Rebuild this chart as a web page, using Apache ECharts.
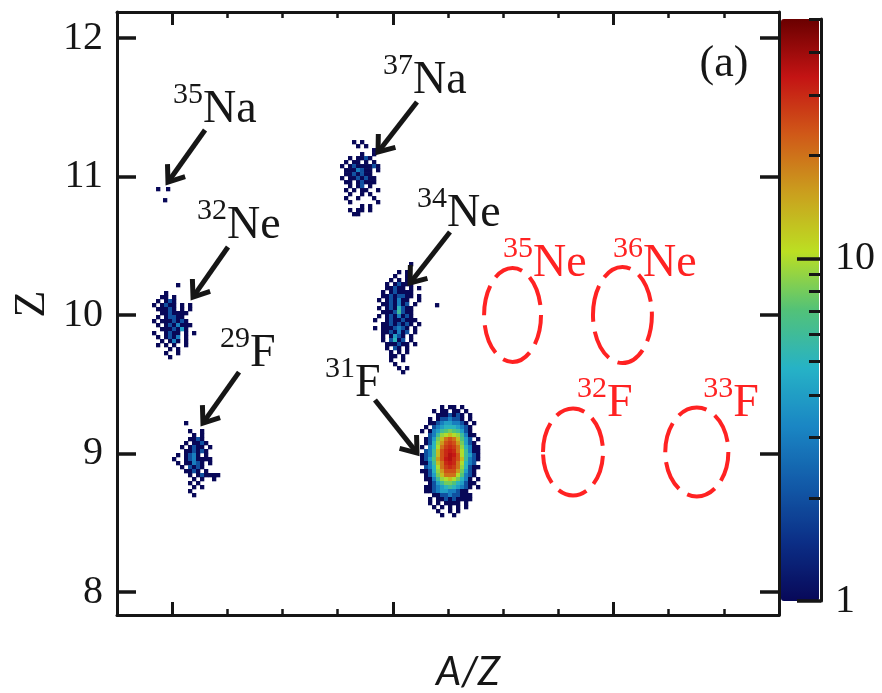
<!DOCTYPE html>
<html><head><meta charset="utf-8">
<script src="https://cdn.jsdelivr.net/npm/echarts@6/dist/echarts.min.js"></script>
<style>html,body{margin:0;padding:0;background:#fff}#c{width:882px;height:693px}</style>
</head><body><div id="c"></div>
<script>
// ---------------- data ----------------
// axis ranges (A/Z, Z)
const xMin = 3.15, xMax = 3.75, xMinorStep = 0.05;
const xMajorTicks = [3.2, 3.4, 3.6];
const yMin = 7.834, yMax = 12.188;
const yTicks = [8, 9, 10, 11, 12];
// colour bar (log scale of counts)
const cbMin = 1, cbMax = 50;
const cbMajorTicks = [1, 10];
const cbMinorTicks = [2, 3, 4, 5, 6, 7, 8, 9, 20, 30, 40, 50];
const cbColors = ['#080858', '#0b2e86', '#125aa8', '#1a86c4', '#26b2c6', '#52c278',
                  '#bcdf22', '#caa01e', '#d05a18', '#c41414', '#6a0000'];

// 2D histogram bin size (A/Z, Z)
const binW = 0.003625, binH = 0.02888;
// count codes used in the typed histograms
const countCodes  = '123456789ABCDEFGHI';
const countValues = [1, 2, 3, 4, 5, 6, 7, 8, 9, 10, 13, 16, 20, 24, 27, 30, 33, 36];

// histogram blocks: rows from top, columns from left; origin = top-left corner (A/Z, Z)
const origin31F = [3.42462, 9.35018];
const rows31F = [
  ".....1.11.1....",
  "...1.11.11.1...",
  "....1112121.1..",
  "..1.1223221.1..",
  "..1123443321.1.",
  ".1.2345554321..",
  "1.13467876421..",
  "..2369ABA96311.",
  ".1248BDEDB742.1",
  ".1259CEFEC8421.",
  "1.35ADFGFD95311",
  ".236BEGHGDA6311",
  "1236BEGIHEA6421",
  "1247CEHIGEB6321",
  "1136BDGHGDA532.",
  ".235ADFGFD95211",
  "11259CEEEC8421.",
  ".1248BDDDA7321.",
  ".11369ABA8531.1",
  "..124688754211.",
  ".112345654321.1",
  ".11234433211...",
  "...1122322111..",
  "..1.112121111..",
  "..1.1.1111.1...",
  "...1.1.1.1.1...",
  "....1..1.1.....",
  ".....1..1......"
];
const origin34Ne = [3.38203, 10.38267];
const rows34Ne = [
  ".........1..",
  "............",
  "......1.1...",
  ".....1..1...",
  "....1.1.11..",
  "...1.12111..",
  "...11211.1.1",
  "..1.121111..",
  "..11212211.1",
  ".1.121311..1",
  "..1121312.1.",
  ".1.1215211..",
  "..11126211..",
  ".1.1213121..",
  "1..12112111.",
  "..11212121.1",
  "1.1112321.1.",
  "..1121312.1.",
  "..1.1421.1..",
  "..1.2512.1..",
  "...111211.1.",
  "...1.21.1...",
  "....1.1.1...",
  "....11.1....",
  "....1..1....",
  ".....1......",
  "......1.1...",
  ".......1...."
];
const origin37Na = [3.35212, 11.26354];
const rows37Na = [
  "...1.1....",
  "....1.1...",
  "........1.",
  ".....1..1.",
  "..1.1121..",
  ".1.11.1.1.",
  "1.12111121",
  ".1113211.1",
  ".1121211..",
  "1.1121211.",
  ".11.12111.",
  "..1.12.1..",
  ".1.1.11..1",
  "..1..1.1..",
  ".1..1...1.",
  "..1......1",
  ".....1.1..",
  "..1.11.1..",
  "...11....."
];
const origin32Ne = [3.18172, 10.23105];
const rows32Ne = [
  "......1....",
  "...........",
  "...1.......",
  "..11.1.....",
  ".1.121.....",
  "1.1211.1.1.",
  ".11121.1.1.",
  "..1121111..",
  ".1.12211...",
  "1.1112121..",
  ".1.1213111.",
  "..1112141..",
  "1..1211.1.1",
  ".1.1213.1..",
  "..1.131.1..",
  ".1.1.1..1..",
  "....1.1....",
  "...1..1....",
  "....1......"
];
const origin29F = [3.19985, 9.23466];
const rows29F = [
  "...1........",
  "............",
  "....1..1....",
  ".....1.1....",
  "....1121....",
  "...1.1121...",
  "..1.1211.1..",
  "...112121...",
  ".1.1231.1...",
  "1..1231111..",
  ".1.11321.1..",
  "..1.2121....",
  "...1121.1...",
  "....1.121111",
  ".....1.1..1.",
  "....1.1.....",
  ".....1.1....",
  "....1.......",
  ".....1......"
];
// single isolated events [A/Z, Z, counts]
const isolated = [[3.1872, 10.910, 1], [3.1962, 10.910, 1], [3.1935, 10.830, 1], [3.4400, 10.072, 1]];

// observed-isotope annotations: arrows [tailX, tailY, headX, headY], labels
const arrows = [
  [3.2298, 11.336, 3.1962, 10.960],
  [3.2506, 10.491, 3.2189, 10.130],
  [3.2606, 9.588, 3.2279, 9.220],
  [3.4219, 11.538, 3.3866, 11.177],
  [3.4518, 10.599, 3.4156, 10.231],
  [3.3838, 9.386, 3.4219, 9.004]
];
const labelMass = ['35', '32', '29', '37', '34', '31'];
const labelElem = ['Na', 'Ne', 'F', 'Na', 'Ne', 'F'];
const labelPos = [[3.2279, 11.365], [3.2497, 10.527], [3.2705, 9.603], [3.4183, 11.574], [3.4491, 10.614], [3.3657, 9.386]];
// expected (unobserved) isotopes: ellipses [centreX, centreY, halfWidth, halfHeight]
const expMass = ['35', '36', '32', '33'];
const expElem = ['Ne', 'Ne', 'F', 'F'];
const expLabelPos = [[3.5270, 10.253], [3.6267, 10.253], [3.5941, 9.242], [3.7086, 9.242]];
const expEllipses = [[3.5085, 10.0, 0.0258, 0.339], [3.6081, 10.0, 0.0267, 0.347], [3.5633, 9.011, 0.0272, 0.314], [3.6755, 9.011, 0.0286, 0.321]];

// ---------------- build ----------------
function binCells(rows, org) {
  const out = [];
  rows.forEach((row, r) => {
    for (let c = 0; c < row.length; c++) {
      const k = countCodes.indexOf(row[c]);
      if (k < 0) continue;
      const n = countValues[k];
      out.push([org[0] + (c + 0.5) * binW, org[1] - (r + 0.5) * binH, n, Math.log10(n)]);
    }
  });
  return out;
}
const cells = [].concat(
  binCells(rows31F, origin31F), binCells(rows34Ne, origin34Ne), binCells(rows37Na, origin37Na),
  binCells(rows32Ne, origin32Ne), binCells(rows29F, origin29F),
  isolated.map(p => [p[0], p[1], p[2], Math.log10(p[2])])
);

const serif = "'Liberation Serif', 'Times New Roman', serif";
const ink = '#161616';
const red = '#ff2222';
const frameLine = { show: true, onZero: false, lineStyle: { color: ink, width: 3 } };
const noLine = { show: false, onZero: false };

function xAxisDef(pos, major) {
  const a = {
    type: 'value', gridIndex: 0, position: pos, min: xMin, max: xMax,
    axisLine: major ? noLine : frameLine,
    axisLabel: { show: false }, splitLine: { show: false },
    axisTick: major
      ? { show: true, inside: true, length: 13, customValues: xMajorTicks, lineStyle: { color: ink, width: 3 } }
      : { show: true, inside: true, length: 6, lineStyle: { color: ink, width: 2.5 } }
  };
  if (!major) a.interval = xMinorStep;
  return a;
}
function yAxisDef(pos, labels) {
  return {
    type: 'value', gridIndex: 0, position: pos, min: yMin, max: yMax,
    axisLine: frameLine, splitLine: { show: false },
    axisTick: { show: true, inside: true, length: 19, customValues: yTicks, lineStyle: { color: ink, width: 3.5 } },
    axisLabel: labels
      ? { show: true, customValues: yTicks, fontFamily: serif, fontSize: 40, color: ink, margin: 14 }
      : { show: false }
  };
}

function textEl(x, y, text, size, color, align) {
  return { type: 'text', x: x, y: y,
    style: { text: text, font: size + 'px ' + serif, fill: color,
             align: align, verticalAlign: 'middle', textAlign: align, textVerticalAlign: 'middle' } };
}
function isotopeLabel(p, mass, elem, color) {
  return { type: 'group', children: [
    textEl(p[0], p[1] - 0.34 * 46, elem, 46, color, 'left'),
    textEl(p[0], p[1] - 21 - 0.34 * 30, mass, 30, color, 'right')
  ] };
}

const option = {
  animation: false,
  backgroundColor: '#ffffff',
  grid: [
    { left: 117, top: 12, width: 662, height: 603 },
    { left: 781, top: 19, width: 40, height: 582 }
  ],
  xAxis: [
    xAxisDef('bottom', false), xAxisDef('bottom', true),
    xAxisDef('top', false), xAxisDef('top', true),
    { type: 'value', gridIndex: 1, min: 0, max: 1, show: false }
  ],
  yAxis: [
    yAxisDef('left', true), yAxisDef('right', false),
    { type: 'log', logBase: 10, gridIndex: 1, position: 'right', min: cbMin, max: cbMax, z: 10,
      axisLine: { show: true, onZero: false, lineStyle: { color: ink, width: 3 } },
      splitLine: { show: false },
      axisTick: { show: true, inside: true, length: 24, customValues: cbMajorTicks, lineStyle: { color: ink, width: 3.5 } },
      axisLabel: { show: true, customValues: cbMajorTicks, fontFamily: serif, fontSize: 40, color: ink, margin: 14 } },
    { type: 'log', logBase: 10, gridIndex: 1, position: 'right', min: cbMin, max: cbMax, z: 10,
      axisLine: noLine, splitLine: { show: false }, axisLabel: { show: false },
      axisTick: { show: true, inside: true, length: 12, customValues: cbMinorTicks, lineStyle: { color: ink, width: 3 } } }
  ],
  visualMap: {
    type: 'continuous', seriesIndex: 0, dimension: 3, min: 0, max: Math.log10(cbMax),
    inRange: { color: cbColors }, left: 781, top: 19, itemWidth: 38, itemHeight: 582,
    padding: 0, calculable: false, hoverLink: false, z: 2, orient: 'vertical'
  },
  series: [
    { type: 'custom', xAxisIndex: 0, yAxisIndex: 0, data: cells, z: 2,
      dimensions: ['x', 'y', 'n', 'logn'], encode: { x: 0, y: 1 }, silent: true,
      renderItem: function (params, api) {
        const c = api.coord([api.value(0), api.value(1)]);
        const s = api.size([binW, binH]);
        return { type: 'rect', shape: { x: c[0] - s[0] / 2, y: c[1] - s[1] / 2, width: s[0] + 0.3, height: s[1] + 0.3 },
                 style: { fill: api.visual('color') } };
      } },
    { type: 'custom', xAxisIndex: 0, yAxisIndex: 0, data: expEllipses, z: 3, silent: true,
      encode: { x: 0, y: 1 },
      renderItem: function (params, api) {
        const e = expEllipses[params.dataIndex];
        const c = api.coord([e[0], e[1]]);
        const s = api.size([e[2], e[3]]);
        return { type: 'ellipse', shape: { cx: c[0], cy: c[1], rx: s[0], ry: s[1] },
                 style: { fill: 'none', stroke: red, lineWidth: 4, lineDash: [30, 10] } };
      } },
    { type: 'custom', xAxisIndex: 0, yAxisIndex: 0, data: arrows, z: 4, silent: true,
      encode: { x: [0, 2], y: [1, 3] },
      renderItem: function (params, api) {
        const a = arrows[params.dataIndex];
        const p1 = api.coord([a[0], a[1]]), p2 = api.coord([a[2], a[3]]);
        const dx = p1[0] - p2[0], dy = p1[1] - p2[1];
        const L = Math.hypot(dx, dy), ux = dx / L, uy = dy / L;
        const ang = 37 * Math.PI / 180, len = 18;
        const barb = t => [p2[0] + len * (ux * Math.cos(t) - uy * Math.sin(t)),
                           p2[1] + len * (ux * Math.sin(t) + uy * Math.cos(t))];
        return { type: 'group', children: [
          { type: 'line', shape: { x1: p1[0], y1: p1[1], x2: p2[0] + ux * 2, y2: p2[1] + uy * 2 },
            style: { stroke: ink, lineWidth: 5 } },
          { type: 'polyline', shape: { points: [barb(ang), [p2[0], p2[1]], barb(-ang)] },
            style: { stroke: ink, lineWidth: 5, fill: 'none', lineJoin: 'miter' } }
        ] };
      } },
    { type: 'custom', xAxisIndex: 0, yAxisIndex: 0, data: labelPos, z: 5, silent: true,
      encode: { x: 0, y: 1 },
      renderItem: function (params, api) {
        const i = params.dataIndex;
        return isotopeLabel(api.coord(labelPos[i]), labelMass[i], labelElem[i], ink);
      } },
    { type: 'custom', xAxisIndex: 0, yAxisIndex: 0, data: expLabelPos, z: 5, silent: true,
      encode: { x: 0, y: 1 },
      renderItem: function (params, api) {
        const i = params.dataIndex;
        return isotopeLabel(api.coord(expLabelPos[i]), expMass[i], expElem[i], red);
      } }
  ],
  graphic: [
    { type: 'text', x: 32, y: 304, rotation: Math.PI / 2, z: 10,
      style: { text: 'Z', font: '44px ' + serif, fill: ink, align: 'center', verticalAlign: 'middle', textAlign: 'center', textVerticalAlign: 'middle' } },
    { type: 'text', x: 724, y: 64, z: 10,
      style: { text: '(a)', font: '44px ' + serif, fill: ink, align: 'center', verticalAlign: 'middle', textAlign: 'center', textVerticalAlign: 'middle' } },
    { type: 'text', x: 468, y: 672, z: 10,
      style: { text: 'A/Z', font: "italic 40px Lato, 'Liberation Sans', sans-serif", fill: ink, align: 'center', verticalAlign: 'middle', textAlign: 'center', textVerticalAlign: 'middle' } }
  ]
};

const chart = echarts.init(document.getElementById('c'), null, { renderer: 'canvas', width: 882, height: 693 });
chart.setOption(option);
</script></body></html>
